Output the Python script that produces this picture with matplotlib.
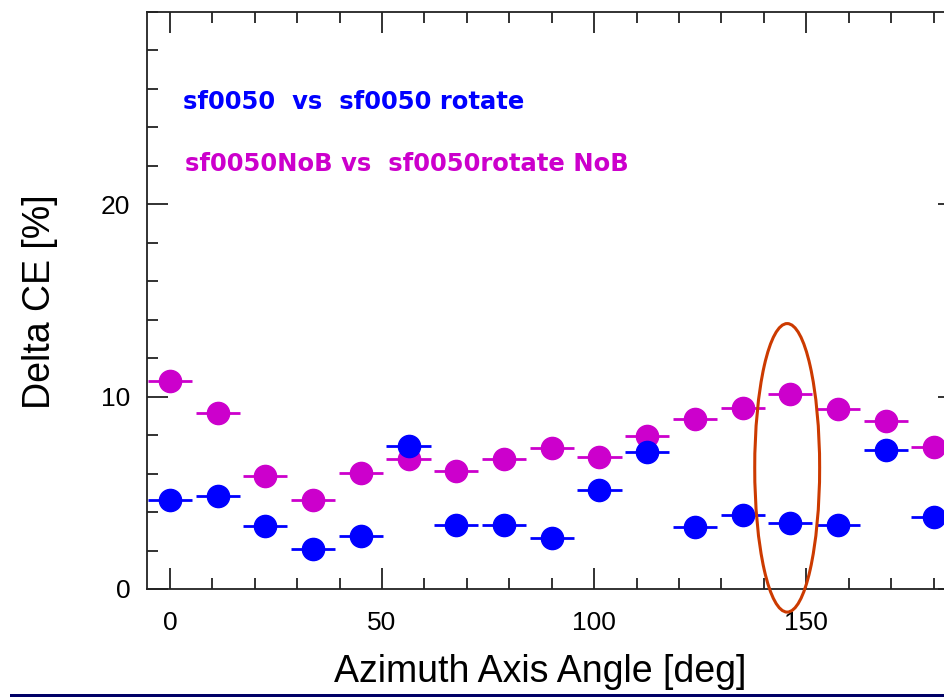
import matplotlib
matplotlib.use("Agg")
import matplotlib.pyplot as plt
from matplotlib.patches import Ellipse, Rectangle
import numpy as np

plt.rcParams['font.family'] = ['Liberation Sans', 'DejaVu Sans']

# azimuth angles (deg), step 11.25
angle = [0, 11.25, 22.5, 33.75, 45, 56.25, 67.5, 78.75, 90, 101.25,
         112.5, 123.75, 135, 146.25, 157.5, 168.75, 180]
# sf0050 vs sf0050 rotate
delta_b = [4.65, 4.83, 3.26, 2.06, 2.75, 7.43, 3.35, 3.35, 2.64, 5.13,
           7.11, 3.23, 3.83, 3.45, 3.35, 7.22, 3.75]
# sf0050NoB vs sf0050rotate NoB
delta_m = [10.83, 9.14, 5.85, 4.65, 6.05, 6.74, 6.13, 6.74, 7.32, 6.86,
           7.98, 8.84, 9.39, 10.12, 9.34, 8.72, 7.36]
xerr = 5.2

blue = "#0000ff"
mag = "#cc00cc"

fig = plt.figure(figsize=(9.44, 6.97), dpi=100)
ax = fig.add_axes([147 / 944, 108 / 697, 812 / 944, 577 / 697])

ax.errorbar(angle, delta_m, xerr=xerr, fmt='o', color=mag, ms=16,
            elinewidth=2, capsize=0, zorder=3)
ax.errorbar(angle, delta_b, xerr=xerr, fmt='o', color=blue, ms=16,
            elinewidth=2, capsize=0, zorder=4)

ax.set_xlim(-5.4, 186)
ax.set_ylim(0, 30)
ax.set_xticks([0, 50, 100, 150])
ax.set_xticks(np.arange(0, 190, 10), minor=True)
ax.set_yticks([0, 10, 20])
ax.set_yticks(np.arange(0, 31, 2), minor=True)
ax.tick_params(which='both', direction='in', top=True, right=True,
               labelsize=19, width=1.3, color='#222222')
ax.tick_params(which='major', length=15)
ax.tick_params(which='minor', length=8)
ax.tick_params(axis='x', pad=16)
ax.tick_params(axis='y', pad=12)
for s in ax.spines.values():
    s.set_linewidth(1.3)
    s.set_color('#222222')

ax.text(3.1, 25.3, "sf0050  vs  sf0050 rotate", color=blue, fontsize=17.5,
        fontweight='bold', va='center', ha='left', family='DejaVu Sans')
ax.text(3.6, 22.1, "sf0050NoB vs  sf0050rotate NoB", color=mag, fontsize=17.5,
        fontweight='bold', va='center', ha='left', family='DejaVu Sans')

ell = Ellipse((145.5, 6.3), 15.3, 15.0, fill=False, edgecolor='#cc3a00',
              linewidth=2.2, clip_on=False, zorder=5)
ax.add_patch(ell)

fig.text(40 / 944, 1 - 302 / 697, "Delta CE [%]", rotation=90, fontsize=27,
         ha='center', va='center')
fig.text(540 / 944, 1 - 672 / 697, "Azimuth Axis Angle [deg]", fontsize=27,
         ha='center', va='center')

fig.add_artist(Rectangle((10 / 944, 0), 934 / 944, 3 / 697,
                         transform=fig.transFigure, color='#000066', lw=0))

fig.savefig("out.png", dpi=100)
